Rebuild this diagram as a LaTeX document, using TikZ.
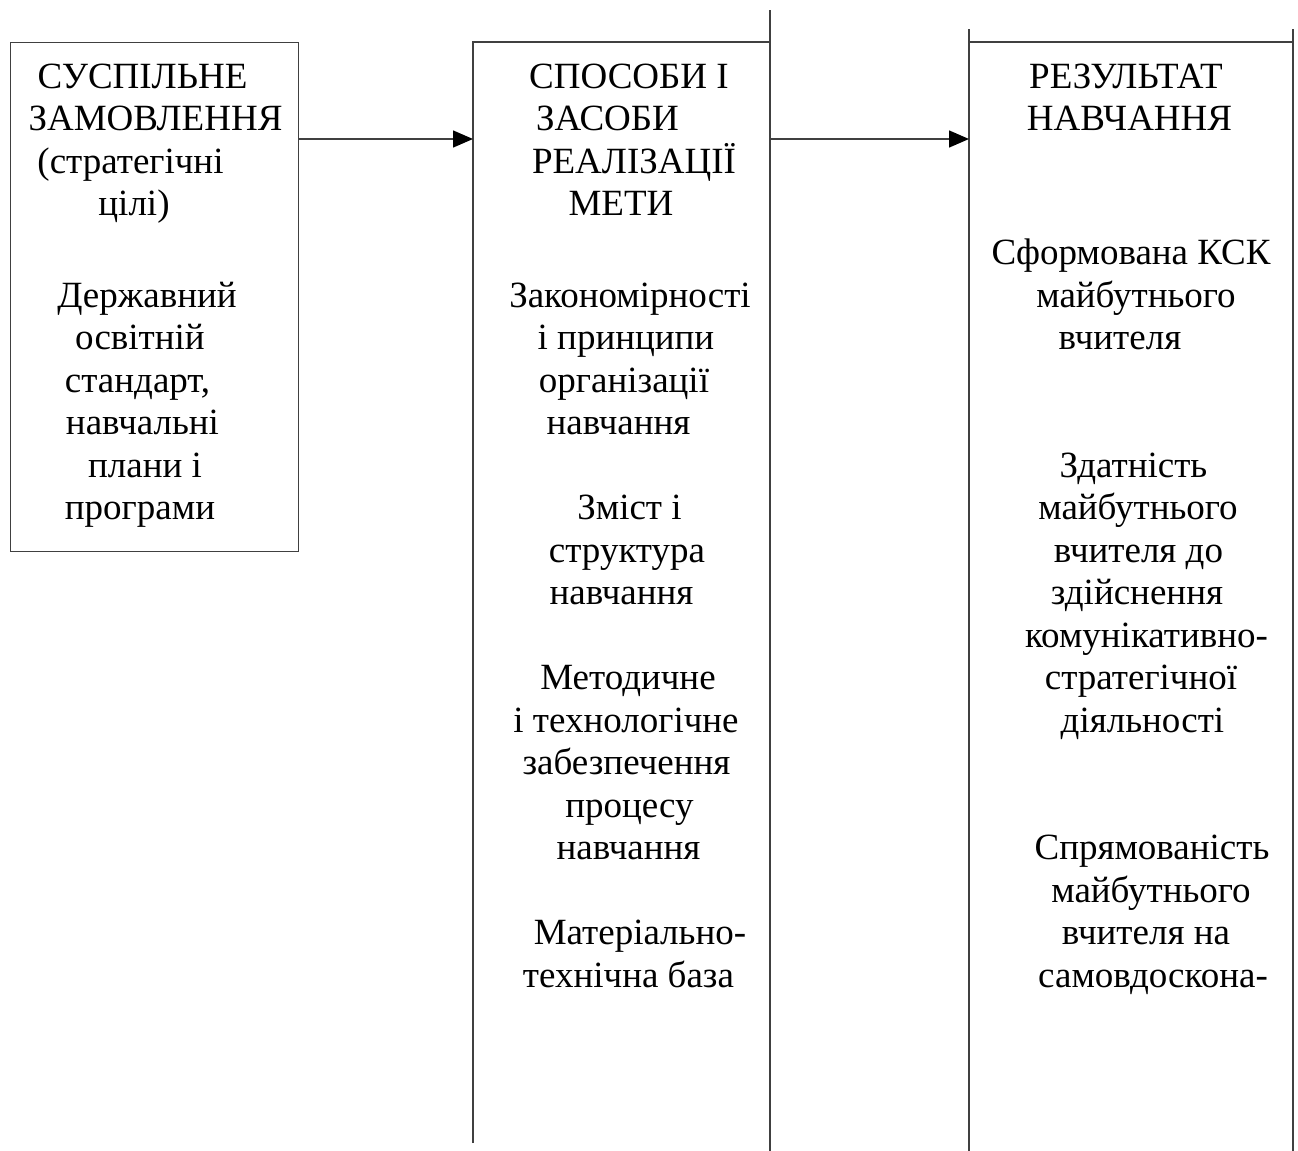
\documentclass[tikz,border=0pt]{standalone}
\usepackage{fontspec}
\setmainfont{Liberation Serif}
\usetikzlibrary{arrows.meta}
\begin{document}
\begin{tikzpicture}[x=0.5pt,y=-0.5pt,
  ln/.style={line width=0.7pt, draw=black!75},
  arr/.style={ln,-{Triangle[length=10pt,width=8.5pt,color=black]}},
  txt/.style={anchor=base, inner sep=0pt, font=\fontsize{18.5pt}{21pt}\selectfont}]
\useasboundingbox (0,0) rectangle (1298,1151);
% box 1
\node[ln, draw, inner sep=0pt, minimum width=144pt, minimum height=254.5pt, anchor=north west] (b1) at (10,42) {};
% box 2 corners
\coordinate (b2tl) at (473,42);
\coordinate (b2tr) at (770,42);
\coordinate (b2lb) at (473,1143);
\coordinate (b2rt) at (770,10);
\coordinate (b2rm) at (770,113);
\coordinate (b2rb) at (770,1151);
\draw[ln] (b2lb) -- (b2tl) -- (b2tr) -- (b2rb);
\draw[ln] (b2rt) -- (b2rm);
% box 3 corners
\coordinate (b3lt) at (969,29);
\coordinate (b3lb) at (969,1151);
\coordinate (b3rt) at (1293,29);
\coordinate (b3rb) at (1293,1151);
\coordinate (b3tl) at (969,42);
\coordinate (b3tr) at (1293,42);
\draw[ln] (b3lt) -- (b3lb);
\draw[ln] (b3rt) -- (b3rb);
\draw[ln] (b3tl) -- (b3tr);
% arrows
\coordinate (b1r) at (298,139);
\coordinate (b2l) at (473,139);
\coordinate (b2r) at (770,139);
\coordinate (b3l) at (969,139);
\draw[arr] (b1r) -- (b2l);
\draw[arr] (b2r) -- (b3l);
% text box 1
\node[txt] (p1) at (142.5,88) {СУСПІЛЬНЕ};
\node[txt] (p2) at (155.5,130) {ЗАМОВЛЕННЯ};
\node[txt] (p3) at (130.5,173) {(стратегічні};
\node[txt] (p4) at (134,215) {цілі)};
\node[txt] (p5) at (147,307) {Державний};
\node[txt] (p6) at (140,349.5) {освітній};
\node[txt] (p7) at (137.5,392) {стандарт,};
\node[txt] (p8) at (142.5,434.5) {навчальні};
\node[txt] (p9) at (145,477) {плани і};
\node[txt] (p10) at (140,519.5) {програми};
% text box 2
\node[txt] (q1) at (629,88) {СПОСОБИ І};
\node[txt] (q2) at (607.5,130) {ЗАСОБИ};
\node[txt] (q3) at (634,173) {РЕАЛІЗАЦІЇ};
\node[txt] (q4) at (621,215) {МЕТИ};
\node[txt] (q5) at (630,307) {Закономірності};
\node[txt] (q6) at (626,349.5) {і принципи};
\node[txt] (q7) at (624,392) {організації};
\node[txt] (q8) at (618.5,434.5) {навчання};
\node[txt] (q9) at (629.5,519.5) {Зміст і};
\node[txt] (q10) at (627,562) {структура};
\node[txt] (q11) at (621.5,604.5) {навчання};
\node[txt] (q12) at (628,689.5) {Методичне};
\node[txt] (q13) at (626,732) {і технологічне};
\node[txt] (q14) at (626.5,774.5) {забезпечення};
\node[txt] (q15) at (629.5,817) {процесу};
\node[txt] (q16) at (628.5,859.5) {навчання};
\node[txt] (q17) at (640,944.5) {Матеріально-};
\node[txt] (q18) at (628.5,987) {технічна база};
% text box 3
\node[txt] (r1) at (1126,88) {РЕЗУЛЬТАТ};
\node[txt] (r2) at (1129.5,130) {НАВЧАННЯ};
\node[txt] (r3) at (1131,264.5) {Сформована КСК};
\node[txt] (r4) at (1136,307) {майбутнього};
\node[txt] (r5) at (1120,349.5) {вчителя};
\node[txt] (r6) at (1133.5,477) {Здатність};
\node[txt] (r7) at (1138,519.5) {майбутнього};
\node[txt] (r8) at (1138.5,562) {вчителя до};
\node[txt] (r9) at (1137,604.5) {здійснення};
\node[txt] (r10) at (1146.5,647) {комунікативно-};
\node[txt] (r11) at (1141,689.5) {стратегічної};
\node[txt] (r12) at (1142.5,732) {діяльності};
\node[txt] (r13) at (1152,859.5) {Спрямованість};
\node[txt] (r14) at (1151,902) {майбутнього};
\node[txt] (r15) at (1146,944.5) {вчителя на};
\node[txt] (r16) at (1153,987) {самовдоскона-};
\end{tikzpicture}
\end{document}
